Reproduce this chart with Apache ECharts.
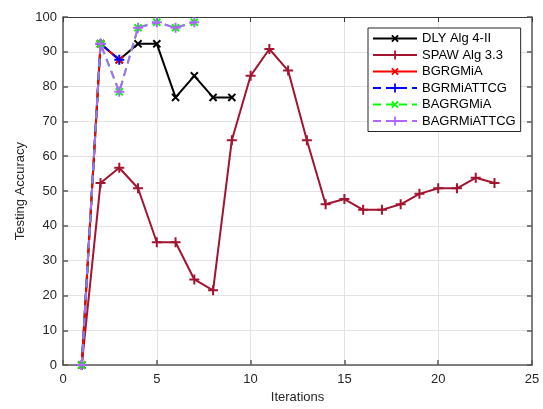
<!DOCTYPE html>
<html>
<head>
<meta charset="utf-8">
<script src="https://cdn.jsdelivr.net/npm/echarts@6/dist/echarts.min.js"></script>
<style>
  html, body { margin: 0; padding: 0; background: #fff; }
  #chart { width: 543px; height: 409px; }
</style>
</head>
<body>
<div id="chart"></div>
<script>
// Testing accuracy per iteration for each algorithm
const seriesNames = ['DLY Alg 4-II', 'SPAW Alg 3.3', 'BGRGMiA', 'BGRMiATTCG', 'BAGRGMiA', 'BAGRMiATTCG'];

const dlyIter = [1, 2, 3, 4, 5, 6, 7, 8, 9];
const dlyAcc = [0, 92.3, 87.7, 92.3, 92.3, 76.9, 83.1, 76.9, 76.9];

const spawIter = [1, 2, 3, 4, 5, 6, 7, 8, 9, 10, 11, 12, 13, 14, 15, 16, 17, 18, 19, 20, 21, 22, 23];
const spawAcc = [0, 52.3, 56.7, 50.8, 35.3, 35.3, 24.6, 21.5, 64.6, 83.1, 90.8, 84.6, 64.6,
                 46.2, 47.7, 44.6, 44.6, 46.2, 49.2, 50.8, 50.8, 53.8, 52.3];

const bgrgmiaIter = [1, 2, 3];
const bgrgmiaAcc = [0, 92.3, 87.7];

const bgrmiattcgIter = [1, 2, 3];
const bgrmiattcgAcc = [0, 92.3, 87.7];

const bagrgmiaIter = [1, 2, 3, 4, 5, 6, 7];
const bagrgmiaAcc = [0, 92.3, 78.5, 96.9, 98.5, 96.9, 98.5];

const bagrmiattcgIter = [1, 2, 3, 4, 5, 6, 7];
const bagrmiattcgAcc = [0, 92.3, 78.5, 96.9, 98.5, 96.9, 98.5];

const xTicks = [0, 5, 10, 15, 20, 25];
const yTicks = [0, 10, 20, 30, 40, 50, 60, 70, 80, 90, 100];

const pair = (xs, ys) => xs.map((x, i) => [x, ys[i]]);

// Plus-shaped marker; rotated 45 degrees it becomes an "x" marker
const PLUS = 'path://M4,0h2v4h4v2h-4v4h-2v-4h-4v-2h4z';

const FONT = 'Liberation Sans';

function makeSeries(name, data, color, dashed, rotate, z) {
  return {
    name: name,
    type: 'line',
    data: data,
    symbol: PLUS,
    symbolSize: 10,
    symbolRotate: rotate,
    showAllSymbol: true,
    z: z,
    lineStyle: { color: color, width: 2, type: dashed ? [8, 5] : 'solid' },
    itemStyle: { color: color, borderWidth: 0 },
    emphasis: { disabled: true },
    animation: false
  };
}

const chart = echarts.init(document.getElementById('chart'), null, { renderer: 'canvas' });

const axisLineStyle = { color: '#5a5a5a', width: 1.5 };
const boxLineStyle = { color: '#3a3a3a', width: 1 };

chart.setOption({
  backgroundColor: '#ffffff',
  animation: false,
  textStyle: { fontFamily: FONT },
  grid: { left: 63, right: 11, top: 17, bottom: 41, containLabel: false },
  legend: {
    orient: 'vertical',
    left: 368,
    top: 28,
    itemWidth: 44,
    itemHeight: 11,
    itemGap: 3.5,
    padding: [4, 5, 4, 4],
    backgroundColor: '#ffffff',
    borderColor: '#262626',
    borderWidth: 1,
    textStyle: { fontFamily: FONT, fontSize: 13, lineHeight: 12, color: '#000' },
    data: seriesNames
  },
  xAxis: [
    {
      type: 'value',
      min: xTicks[0],
      max: xTicks[xTicks.length - 1],
      interval: 5,
      name: 'Iterations',
      nameLocation: 'middle',
      nameGap: 23,
      nameTextStyle: { fontFamily: FONT, fontSize: 13, color: '#262626' },
      axisLine: { show: true, onZero: false, lineStyle: axisLineStyle },
      axisTick: { show: true, inside: true, length: 5, lineStyle: axisLineStyle },
      axisLabel: { fontFamily: FONT, fontSize: 13, color: '#262626', margin: 8 },
      splitLine: { show: true, lineStyle: { color: '#e3e3e3', width: 1 } }
    },
    {
      type: 'value',
      position: 'top',
      min: xTicks[0],
      max: xTicks[xTicks.length - 1],
      interval: 5,
      axisLine: { show: true, onZero: false, lineStyle: boxLineStyle },
      axisTick: { show: true, inside: true, length: 5, lineStyle: boxLineStyle },
      axisLabel: { show: false },
      splitLine: { show: false }
    }
  ],
  yAxis: [
    {
      type: 'value',
      min: yTicks[0],
      max: yTicks[yTicks.length - 1],
      interval: 10,
      name: 'Testing Accuracy',
      nameLocation: 'middle',
      nameGap: 36,
      nameMoveOverlap: false,
      nameTextStyle: { fontFamily: FONT, fontSize: 13, color: '#262626' },
      axisLine: { show: true, onZero: false, lineStyle: axisLineStyle },
      axisTick: { show: true, inside: true, length: 5, lineStyle: axisLineStyle },
      axisLabel: { fontFamily: FONT, fontSize: 13, color: '#262626', margin: 6 },
      splitLine: { show: true, lineStyle: { color: '#e3e3e3', width: 1 } }
    },
    {
      type: 'value',
      position: 'right',
      min: yTicks[0],
      max: yTicks[yTicks.length - 1],
      interval: 10,
      axisLine: { show: true, onZero: false, lineStyle: axisLineStyle },
      axisTick: { show: true, inside: true, length: 5, lineStyle: axisLineStyle },
      axisLabel: { show: false },
      splitLine: { show: false }
    }
  ],
  series: [
    makeSeries(seriesNames[0], pair(dlyIter, dlyAcc), '#000000', false, 45, 2),
    makeSeries(seriesNames[1], pair(spawIter, spawAcc), '#A2142F', false, 0, 3),
    makeSeries(seriesNames[2], pair(bgrgmiaIter, bgrgmiaAcc), '#FF0000', false, 45, 4),
    makeSeries(seriesNames[3], pair(bgrmiattcgIter, bgrmiattcgAcc), '#0000FF', true, 0, 5),
    makeSeries(seriesNames[4], pair(bagrgmiaIter, bagrgmiaAcc), '#00FF00', true, 45, 6),
    makeSeries(seriesNames[5], pair(bagrmiattcgIter, bagrmiattcgAcc), '#B266FF', true, 0, 7)
  ]
});
</script>
</body>
</html>
